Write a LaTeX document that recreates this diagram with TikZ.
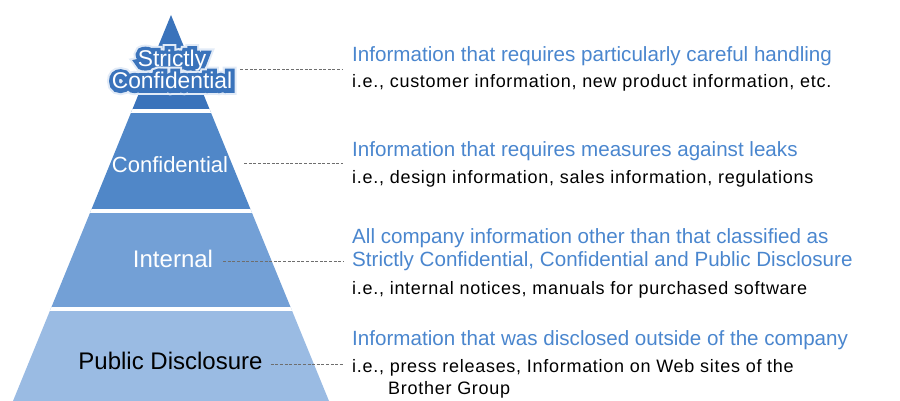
\documentclass[tikz,border=0pt]{standalone}
\usepackage{fontspec}
\setmainfont{Liberation Sans}
\newfontfamily\detailfont[LetterSpace=4]{Liberation Sans}
\newfontfamily\outlinefont[FakeBold=34]{Liberation Sans}
\newfontfamily\halofont[FakeBold=52]{Liberation Sans}
\definecolor{cone}{HTML}{3A73BB}
\definecolor{ctwo}{HTML}{5087C8}
\definecolor{cthree}{HTML}{73A0D6}
\definecolor{cfour}{HTML}{9ABBE3}
\definecolor{headblue}{HTML}{4A86CE}
\definecolor{dashgray}{HTML}{6E6E6E}
\definecolor{halo}{HTML}{E2EBF7}
\newcommand{\glowword}[1]{\rlap{\color{halo}\halofont #1}\rlap{\color{cone}\outlinefont #1}#1}
\tikzset{
  plabel/.style={inner sep=0pt, font=\fontsize{22}{24}\selectfont},
  biglabel/.style={inner sep=0pt, font=\fontsize{24}{24}\selectfont},
  headtext/.style={inner sep=0pt, anchor=base west, text=headblue, font=\fontsize{20.6}{23}\selectfont},
  detailtext/.style={inner sep=0pt, anchor=base west, text=black, font=\detailfont\fontsize{18}{22}\selectfont},
  dashline/.style={draw=dashgray, line width=1pt, dash pattern=on 3pt off 1.6pt}
}
\begin{document}
\begin{tikzpicture}[x=1pt,y=-1pt]
\useasboundingbox (0,0) rectangle (900,401);
% pyramid
\begin{scope}
  \clip (171,15) -- (329,401) -- (13,401) -- cycle;
  \fill[cone] (0,0) rectangle (400,111);
  \fill[ctwo] (0,111) rectangle (400,211);
  \fill[cthree] (0,211) rectangle (400,309);
  \fill[cfour] (0,309) rectangle (400,402);
  \draw[white, line width=3.4pt] (0,111.2) -- (400,111.2);
  \draw[white, line width=3.4pt] (0,211) -- (400,211);
  \draw[white, line width=4pt] (0,309) -- (400,309);
\end{scope}
% pyramid labels
\node[inner sep=0pt, text=white, align=center, font=\fontsize{22.8}{22.5}\selectfont, anchor=base] (lsc) at (172,89) {\glowword{Strictly}\\\glowword{Confidential}};
\node[plabel, text=white, anchor=base] (lcf) at (170,172) {Confidential};
\node[biglabel, text=white, anchor=base] (lin) at (173,267) {Internal};
\node[biglabel, text=black, anchor=base] (lpd) at (170.5,369) {Public Disclosure};
% connector ends
\coordinate (e1) at (343,69.3);
\coordinate (e2) at (343,163.3);
\coordinate (e3) at (343,261);
\coordinate (e4) at (343,364);
\draw[dashline] ([xshift=8pt]lsc.east |- e1) -- (e1);
\draw[dashline] ([xshift=16pt]lcf.east |- e2) -- (e2);
\draw[dashline] ([xshift=10pt]lin.east |- e3) -- (e3);
\draw[dashline] ([xshift=8pt]lpd.east |- e4) -- (e4);
% right texts
\node[headtext] (h1) at (352,62) {Information that requires particularly careful handling};
\node[detailtext] (d1) at (352,88) {i.e., customer information, new product information, etc.};
\node[headtext] (h2) at (352,157) {Information that requires measures against leaks};
\node[detailtext] (d2) at (352,184) {i.e., design information, sales information, regulations};
\node[headtext] (h3a) at (352,243) {All company information other than that classified as};
\node[headtext] (h3b) at (352,266) {Strictly Confidential, Confidential and Public Disclosure};
\node[detailtext] (d3) at (352,294) {i.e., internal notices, manuals for purchased software};
\node[headtext] (h4) at (352,345) {Information that was disclosed outside of the company};
\node[detailtext] (d4a) at (352,372) {i.e., press releases, Information on Web sites of the};
\node[detailtext] (d4b) at (388,394) {Brother Group};
\end{tikzpicture}
\end{document}
